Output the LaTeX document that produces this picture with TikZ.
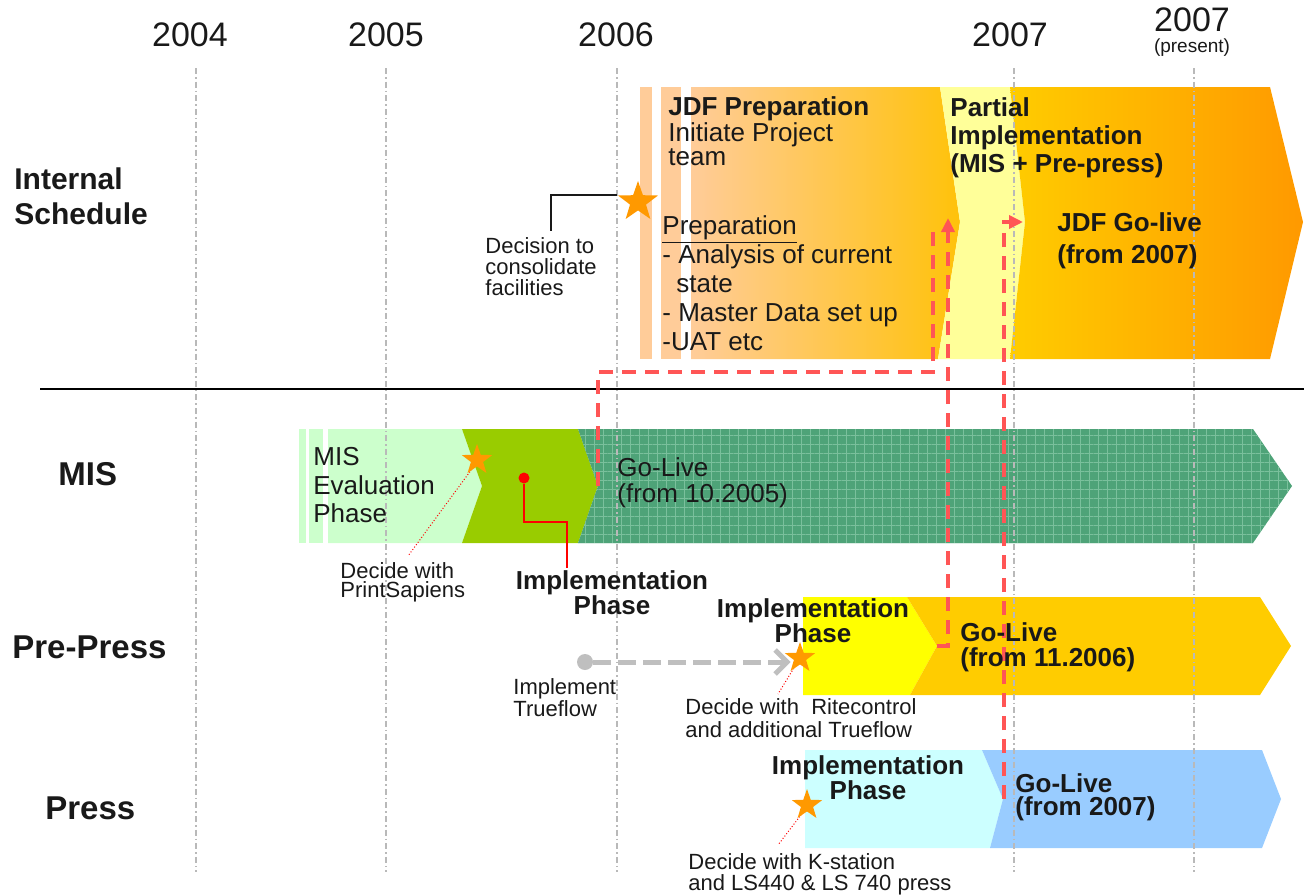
\documentclass[tikz,border=0pt]{standalone}
\usepackage{fontspec}
\setmainfont{Liberation Sans}
\usetikzlibrary{shapes.geometric,arrows.meta,patterns.meta}

\definecolor{prepLight}{RGB}{255,204,153}
\definecolor{prepDark}{RGB}{255,194,10}
\definecolor{partYellow}{RGB}{255,255,153}
\definecolor{liveLeft}{RGB}{255,204,0}
\definecolor{liveRight}{RGB}{255,153,0}
\definecolor{evalGreen}{RGB}{204,255,204}
\definecolor{implGreen}{RGB}{153,204,0}
\definecolor{misGreen}{RGB}{78,163,120}
\definecolor{misGrid}{RGB}{122,192,156}
\definecolor{ppYellow}{RGB}{255,255,0}
\definecolor{ppOrange}{RGB}{255,204,0}
\definecolor{prCyan}{RGB}{204,255,255}
\definecolor{prBlue}{RGB}{153,204,255}
\definecolor{starOrange}{RGB}{255,153,0}
\definecolor{linkRed}{RGB}{255,85,85}
\definecolor{txt}{RGB}{25,25,25}

\begin{document}
\begin{tikzpicture}[x=0.5pt, y=-0.5pt]
            \tikzstyle{yearlab} = [text=txt, inner sep=0, font=\fontsize{17}{17}\selectfont]
            \tikzstyle{rowlab} = [text=txt, anchor=north west, inner sep=0, align=left, font=\bfseries\fontsize{16.5}{17.5}\selectfont]
            \tikzstyle{phase} = [text=txt, anchor=north west, inner sep=0, align=left, font=\fontsize{13}{14.5}\selectfont]
            \tikzstyle{phasebf} = [text=txt, anchor=north west, inner sep=0, align=left, font=\bfseries\fontsize{13}{14}\selectfont]
            \tikzstyle{implbf} = [text=txt, anchor=north, inner sep=0, align=center, font=\bfseries\fontsize{13}{12.5}\selectfont]
            \tikzstyle{note} = [text=txt, anchor=north west, inner sep=0, align=left, font=\fontsize{11}{10.5}\selectfont]
            \tikzstyle{milestone} = [star, star points=5, star point ratio=2.5, fill=starOrange, inner sep=0, minimum size=16pt]
            \tikzstyle{yearline} = [gray!55, line width=0.8pt, dash pattern=on 3pt off 1.5pt on 0.8pt off 1.5pt]
            \tikzstyle{link} = [linkRed, line width=1.8pt, dash pattern=on 7pt off 4.5pt]
            \tikzstyle{pointer} = [red, line width=0.5pt, densely dotted]
            \useasboundingbox (0,0) rectangle (1304,894);
            % internal schedule band
            \fill[prepLight] (640,87) rectangle (652,359);
            \fill[prepLight] (661,87) rectangle (681,359);
            \shade[left color=prepLight, right color=prepDark] (691,87) -- (940,87) -- (960,222) -- (938,359) -- (691,359) -- cycle;
            \fill[partYellow] (940,87) -- (1010,87) -- (1025,222) -- (1010,359) -- (938,359) -- (960,222) -- cycle;
            \shade[left color=liveLeft, right color=liveRight] (1010,87) -- (1270,87) -- (1303,222) -- (1270,359) -- (1010,359) -- (1025,222) -- cycle;
            % MIS band
            \fill[evalGreen] (299,429) rectangle (306,543);
            \fill[evalGreen] (309,429) rectangle (323,543);
            \fill[evalGreen] (328,429) -- (462,429) -- (482,486) -- (462,543) -- (328,543) -- cycle;
            \fill[implGreen] (462,429) -- (578,429) -- (598,486) -- (578,543) -- (462,543) -- (482,486) -- cycle;
            \fill[misGreen] (578,429) -- (1253,429) -- (1292,486) -- (1253,543) -- (578,543) -- (598,486) -- cycle;
            \fill[pattern={Hatch[angle=0, distance=4.5pt, line width=0.4pt]}, pattern color=misGrid] (578,429) -- (1253,429) -- (1292,486) -- (1253,543) -- (578,543) -- (598,486) -- cycle;
            % pre-press band
            \fill[ppYellow] (803,597) -- (907,597) -- (937,646) -- (910,695) -- (803,695) -- cycle;
            \fill[ppOrange] (907,597) -- (1260,597) -- (1291,646) -- (1260,695) -- (910,695) -- (937,646) -- cycle;
            % press band
            \fill[prCyan] (805,750) -- (982,750) -- (1003,799) -- (990,848) -- (805,848) -- cycle;
            \fill[prBlue] (982,750) -- (1262,750) -- (1281,799) -- (1262,848) -- (990,848) -- (1003,799) -- cycle;
            % years
            \foreach \xx/\yy in {196/2004, 386/2005, 617/2006, 1014/2007} {
                \draw[yearline] (\xx,68) -- (\xx,872);
            }
            \draw[yearline] (1194,68) -- (1194,872);
            \node[yearlab] (y2004) at (190,35) {2004};
            \node[yearlab] (y2005) at (386,35) {2005};
            \node[yearlab] (y2006) at (616,35) {2006};
            \node[yearlab] (y2007) at (1010,35) {2007};
            \node[yearlab] (y2007b) at (1192,20) {2007};
            \node[text=txt, inner sep=0, font=\fontsize{9.5}{9.5}\selectfont] (present) at (1192,48) {(present)};
            \draw[line width=0.9pt] (40,389) -- (1304,389);
            % row labels
            \node[rowlab, font=\bfseries\fontsize{15}{17.5}\selectfont] (intLab) at (14,167) {Internal\\Schedule};
            \node[rowlab] (misLab) at (58,462) {MIS};
            \node[rowlab] (ppLab) at (12,635) {Pre-Press};
            \node[rowlab] (prLab) at (45,796) {Press};
            % tips of the bands
            \coordinate (misGoTip) at (598,486);
            \coordinate (ppGoTip) at (937,646);
            \coordinate (prGoTip) at (1004,799);
            \coordinate (prepEnd) at (933,224);
            \coordinate (partEnd) at (948,218);
            \coordinate (liveEnd) at (1023,222);
            \draw[link] (misGoTip) -- ++(0,-114) -| (prepEnd);
            \draw[link, -{Triangle[length=7pt, width=6.5pt]}] (ppGoTip) -| (partEnd);
            \draw[link, -{Triangle[length=7pt, width=6.5pt]}] (prGoTip) |- (liveEnd);
            % internal schedule texts
            \node[phase, font=\fontsize{13}{12}\selectfont] (jdfPrep) at (668,96) {\textbf{JDF Preparation}\\Initiate Project\\team};
            \node[phase] (prepList) at (662,215) {\underline{Preparation}\\- Analysis of current\\\hspace*{7pt}state\\- Master Data set up\\-UAT etc};
            \node[phasebf] (partImpl) at (950,97) {Partial\\Implementation\\(MIS + Pre-press)};
            \node[phasebf, font=\bfseries\fontsize{13}{16}\selectfont] (jdfLive) at (1057,212) {JDF Go-live\\(from 2007)};
            \node[milestone, minimum size=21pt] (starInt) at (638,202) {};
            \node[note] (decInt) at (485,237) {Decision to\\consolidate\\facilities};
            \coordinate (decTop) at (551,231);
            \draw[line width=0.8pt, txt] (starInt.outer point 2) -| (decTop);
            % MIS texts
            \node[phase, font=\fontsize{13}{14.25}\selectfont] (misEval) at (313,447) {MIS\\Evaluation\\Phase};
            \node[phase, font=\fontsize{13}{13}\selectfont] (misLive) at (617,457) {Go-Live\\(from 10.2005)};
            \node[implbf] (misImpl) at (612,570) {Implementation\\Phase};
            \node[note, font=\fontsize{11}{9.5}\selectfont] (decMis) at (340,562) {Decide with\\PrintSapiens};
            \coordinate (decMisTop) at (408,556);
            \draw[pointer] (477,462) -- (decMisTop);
            \node[milestone] (starMis) at (477,460) {};
            \node[circle, fill=red, inner sep=0, minimum size=5.5pt] (misDot) at (524,478) {};
            \coordinate (misBend) at (567,522);
            \coordinate (misImplTop) at (567,568);
            \draw[red, line width=1pt] (misDot) |- (misBend) -- (misImplTop);
            % pre-press texts
            \node[implbf] (ppImpl) at (813,598) {Implementation\\Phase};
            \node[phasebf, font=\bfseries\fontsize{13}{12.5}\selectfont] (ppLive) at (960,622) {Go-Live\\(from 11.2006)};
            \node[note, font=\fontsize{11}{10}\selectfont] (trueflow) at (513,678) {Implement\\Trueflow};
            \node[circle, fill=gray!50, inner sep=0, minimum size=8pt] (tfDot) at (585,662) {};
            \node[note, font=\fontsize{11}{11.5}\selectfont] (decPp) at (685,698) {Decide with\ \ Ritecontrol\\and additional Trueflow};
            \coordinate (decPpTop) at (778,694);
            \draw[pointer] (800,658) -- (decPpTop);
            \node[milestone] (starPp) at (800,658) {};
            \draw[gray!50, line width=2.5pt, dash pattern=on 9pt off 3.5pt, -{Straight Barb[length=6pt, width=12pt, line width=2.5pt]}] (tfDot) -- (tfDot -| starPp.west);
            % press texts
            \node[implbf] (prImpl) at (868,755) {Implementation\\Phase};
            \node[phasebf, font=\bfseries\fontsize{13}{11.5}\selectfont] (prLive) at (1015,773) {Go-Live\\(from 2007)};
            \node[note] (decPr) at (688,853) {Decide with K-station\\and LS440 \& LS 740 press};
            \coordinate (decPrTop) at (778,845);
            \draw[pointer] (807,807) -- (decPrTop);
            \node[milestone] (starPr) at (807,805) {};
\end{tikzpicture}
\end{document}
